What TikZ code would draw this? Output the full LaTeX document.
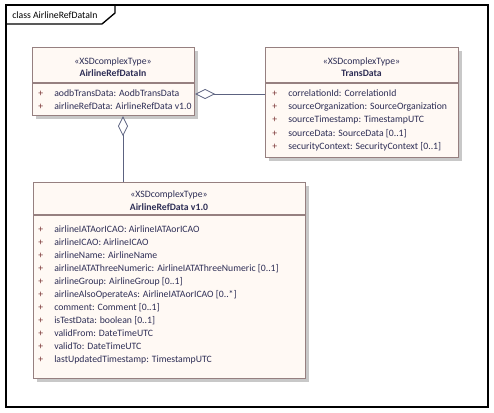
\documentclass[tikz,border=0pt]{standalone}
\usepackage{fontspec}
\setmainfont{Carlito}
\usetikzlibrary{arrows.meta,shadows}

\definecolor{boxfill}{RGB}{255,249,244}
\definecolor{boxline}{RGB}{150,128,128}
\definecolor{linkcol}{RGB}{92,98,128}
\definecolor{txtcol}{RGB}{45,45,85}
\definecolor{pluscol}{RGB}{120,50,50}
\definecolor{shadegray}{RGB}{200,200,200}

\newcommand{\pl}{\makebox[12pt][l]{\textcolor{pluscol}{+}}}

\begin{document}
\begin{tikzpicture}[x=0.75pt,y=-0.75pt,font=\fontsize{7.3}{8}\selectfont,
	umlbox/.style={draw=boxline, fill=boxfill, line width=0.8pt, anchor=north west, inner sep=0pt,
		general shadow={fill=shadegray, shadow xshift=2.5pt, shadow yshift=-2.5pt}},
	stereo/.style={text=txtcol, anchor=mid, inner sep=0pt},
	attr/.style={text=txtcol, anchor=mid west, inner sep=0pt},
	sep/.style={draw=boxline, line width=0.8pt},
	aggr/.style={draw=linkcol, line width=0.6pt, {Diamond[open,length=15pt,width=7.5pt]}-}]

	\useasboundingbox (0,0) rectangle (494,413);

	% Rahmen mit Reiter
	\draw[line width=1pt] (6,5) rectangle (488,407);
	\draw[line width=1pt] (6,24) -- (102,24) -- (115,13) -- (115,5);
	\node[anchor=mid west, inner sep=0pt] (title) at (12,15) {class AirlineRefDataIn};

	% AirlineRefDataIn
	\node[umlbox, minimum width=121.5pt, minimum height=51pt] (refin) at (32,47) {};
	\node[stereo] (refinst) at (113,61) {«XSDcomplexType»};
	\node[stereo, font=\fontsize{7.3}{8}\selectfont\bfseries] (refinnm) at (113,73) {AirlineRefDataIn};
	\draw[sep] (refin.west |- 0,83) -- (refin.east |- 0,83);
	\node[attr] (a1) at (38,93) {\pl aodbTransData: AodbTransData};
	\node[attr] (a2) at (38,106.3) {\pl airlineRefData: AirlineRefData v1.0};

	% TransData
	\node[umlbox, minimum width=144.75pt, minimum height=82.5pt] (trans) at (265,47) {};
	\node[stereo] (transst) at (361.5,61) {«XSDcomplexType»};
	\node[stereo, font=\fontsize{7.3}{8}\selectfont\bfseries] (transnm) at (361.5,73) {TransData};
	\draw[sep] (trans.west |- 0,83) -- (trans.east |- 0,83);
	\node[attr] (t1) at (272,93) {\pl correlationId: CorrelationId};
	\node[attr] (t2) at (272,106.3) {\pl sourceOrganization: SourceOrganization};
	\node[attr] (t3) at (272,119.6) {\pl sourceTimestamp: TimestampUTC};
	\node[attr] (t4) at (272,133) {\pl sourceData: SourceData [0..1]};
	\node[attr] (t5) at (272,146.3) {\pl securityContext: SecurityContext [0..1]};

	% AirlineRefData v1.0
	\node[umlbox, minimum width=204pt, minimum height=147pt] (refdata) at (33,182) {};
	\node[stereo] (refdatast) at (169,194) {«XSDcomplexType»};
	\node[stereo, font=\fontsize{7.3}{8}\selectfont\bfseries] (refdatanm) at (169,207) {AirlineRefData v1.0};
	\draw[sep] (refdata.west |- 0,215) -- (refdata.east |- 0,215);
	\node[attr] (c1) at (38,229) {\pl airlineIATAorICAO: AirlineIATAorICAO};
	\node[attr] (c2) at (38,242) {\pl airlineICAO: AirlineICAO};
	\node[attr] (c3) at (38,255) {\pl airlineName: AirlineName};
	\node[attr] (c4) at (38,268) {\pl airlineIATAThreeNumeric: AirlineIATAThreeNumeric [0..1]};
	\node[attr] (c5) at (38,281) {\pl airlineGroup: AirlineGroup [0..1]};
	\node[attr] (c6) at (38,294) {\pl airlineAlsoOperateAs: AirlineIATAorICAO [0..*]};
	\node[attr] (c7) at (38,307) {\pl comment: Comment [0..1]};
	\node[attr] (c8) at (38,320) {\pl isTestData: boolean [0..1]};
	\node[attr] (c9) at (38,333) {\pl validFrom: DateTimeUTC};
	\node[attr] (c10) at (38,346) {\pl validTo: DateTimeUTC};
	\node[attr] (c11) at (38,359) {\pl lastUpdatedTimestamp: TimestampUTC};

	% Aggregationen
	\coordinate (agg1) at (200,94);
	\coordinate (agg2) at (123,150);
	\draw[aggr] (refin.east |- agg1) -- (trans.west |- agg1);
	\draw[aggr] (refin.south -| agg2) -- (refdata.north -| agg2);
\end{tikzpicture}
\end{document}
